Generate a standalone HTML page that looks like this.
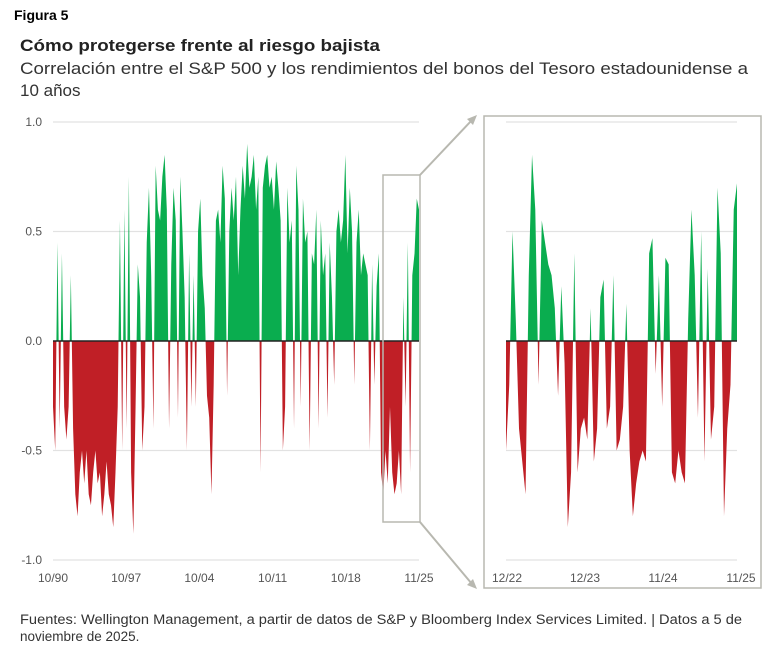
<!DOCTYPE html>
<html><head><meta charset="utf-8"><style>
body{margin:0;background:#fff;}
svg{display:block;font-family:"Liberation Sans",sans-serif;}
</style></head><body>
<svg id="chart" width="777" height="653" viewBox="0 0 777 653" xmlns="http://www.w3.org/2000/svg">
<text x="14" y="20" font-size="14" font-weight="bold" fill="#000">Figura 5</text>
<text x="20" y="51" font-size="17" font-weight="bold" fill="#222" textLength="360" lengthAdjust="spacingAndGlyphs">Cómo protegerse frente al riesgo bajista</text>
<text x="20" y="74" font-size="17" fill="#333" textLength="728" lengthAdjust="spacingAndGlyphs">Correlación entre el S&amp;P 500 y los rendimientos del bonos del Tesoro estadounidense a</text>
<text x="20" y="96" font-size="17" fill="#333">10 años</text>
<g id="main"></g>
<g id="inset"></g>
<rect x="383" y="175" width="37" height="347" fill="none" stroke="#b8b8b0" stroke-width="1.5"/>
<rect x="484" y="116" width="277" height="472" fill="none" stroke="#b8b8b0" stroke-width="1.5"/>
<line x1="420" y1="175" x2="472" y2="120" stroke="#b8b8b0" stroke-width="2"/>
<line x1="420" y1="522" x2="472" y2="584" stroke="#b8b8b0" stroke-width="2"/>
<polygon points="477,115 467,119 473,125" fill="#b8b8b0"/>
<polygon points="477,589 467,585 473,579" fill="#b8b8b0"/>
<text x="20" y="624" font-size="13.5" fill="#333" textLength="722" lengthAdjust="spacingAndGlyphs">Fuentes: Wellington Management, a partir de datos de S&amp;P y Bloomberg Index Services Limited.  |  Datos a 5 de</text>
<text x="20" y="641" font-size="13.5" fill="#333">noviembre de 2025.</text>
</svg>
<script>
const yTicks = [1.0, 0.5, 0.0, -0.5, -1.0];
const yTickLabels = ["1.0", "0.5", "0.0", "-0.5", "-1.0"];
const mainXTickLabels = ["10/90", "10/97", "10/04", "10/11", "10/18", "11/25"];
const insetXTickLabels = ["12/22", "12/23", "11/24", "11/25"];
const mainValues = [
-0.3,-0.5,0.45,-0.4,0.4,
-0.3,-0.45,-0.3,0.3,-0.4,
-0.7,-0.8,-0.6,-0.5,-0.65,
-0.5,-0.7,-0.75,-0.6,-0.5,
-0.65,-0.6,-0.8,-0.7,-0.55,
-0.7,-0.75,-0.85,-0.6,-0.3,
0.55,-0.5,0.6,-0.4,0.75,
-0.6,-0.88,-0.3,0.35,0.2,
-0.5,-0.3,0.45,0.7,0.3,
-0.4,0.8,0.6,0.55,0.75,
0.85,0.6,-0.4,0.35,0.7,
0.55,-0.35,0.75,0.5,0.2,
-0.5,0.4,-0.3,0.3,-0.3,
0.5,0.65,0.3,0.15,-0.25,
-0.35,-0.7,-0.2,0.55,0.6,
0.45,0.8,0.65,-0.25,0.5,
0.7,0.55,0.75,0.3,0.6,
0.8,0.65,0.9,0.7,0.75,
0.85,0.6,0.75,-0.6,0.7,
0.8,0.85,0.7,0.75,0.6,
0.82,0.7,0.55,-0.5,-0.3,
0.7,0.45,0.55,-0.4,0.8,
0.6,-0.3,0.65,0.45,0.5,
-0.5,0.4,0.35,0.6,-0.4,
0.55,0.3,0.4,-0.35,0.45,
0.2,-0.2,0.5,0.6,0.45,
0.55,0.85,0.4,0.7,0.5,
-0.2,0.45,0.6,0.3,0.4,
0.35,0.3,-0.5,0.35,-0.2,
0.25,0.4,-0.6,-0.7,-0.5,
-0.65,-0.3,-0.6,-0.7,-0.65,
-0.5,-0.7,0.2,-0.3,0.45,
-0.6,0.3,0.4,0.65,0.6];
const insetValues = [-0.5,-0.2,0.5,0.1,-0.4,-0.55,-0.7,0.3,0.85,0.6,-0.2,0.55,0.45,0.35,0.3,0.15,-0.25,0.25,-0.1,-0.85,-0.6,0.4,-0.6,-0.4,-0.35,-0.45,0.15,-0.55,-0.4,0.2,0.28,-0.4,-0.3,0.3,-0.5,-0.45,-0.3,0.17,-0.5,-0.8,-0.65,-0.55,-0.5,-0.55,0.4,0.47,-0.15,0.3,-0.3,0.38,0.35,-0.6,-0.65,-0.5,-0.6,-0.65,0.1,0.6,0.3,-0.35,0.5,-0.55,0.33,-0.45,-0.3,0.7,0.4,-0.8,-0.4,-0.2,0.6,0.72];

const NS = "http://www.w3.org/2000/svg";
function yScale(v){ return 341 - v * 219; }
function mk(tag, attrs, parent){ const e = document.createElementNS(NS, tag); for (const k in attrs) e.setAttribute(k, attrs[k]); parent.appendChild(e); return e; }

function drawPanel(g, x0, x1, values, xLabels, lx0, lx1, showY, id){
  yTicks.forEach((t, i) => {
    if (t !== 0) {
      const l = mk("line", {x1:x0, x2:x1, y1:yScale(t), y2:yScale(t), stroke:"#e2e2e2", "stroke-width":1.2}, g);
      
      
    }
    if (showY) {
      const tx = mk("text", {x:42, y:yScale(t)+4, "font-size":12, fill:"#555", "text-anchor":"end"}, g);
      tx.textContent = yTickLabels[i];
      
      
    }
  });
  const n = values.length;
  const xs = i => x0 + (x1 - x0) * i / (n - 1);
  let d = "M" + x0 + "," + yScale(0);
  values.forEach((v, i) => { d += " L" + xs(i).toFixed(2) + "," + yScale(v).toFixed(2); });
  d += " L" + x1 + "," + yScale(0) + " Z";
  const defs = mk("defs", {}, g);
  const cp = mk("clipPath", {id:id+"-pos"}, defs);
  mk("rect", {x:x0, y:0, width:x1-x0, height:yScale(0)}, cp);
  const cn = mk("clipPath", {id:id+"-neg"}, defs);
  mk("rect", {x:x0, y:yScale(0), width:x1-x0, height:400}, cn);
  const pos = mk("path", {d:d, fill:"#0aad4f", "clip-path":"url(#"+id+"-pos)"}, g);
  
  
  const neg = mk("path", {d:d, fill:"#c01f26", "clip-path":"url(#"+id+"-neg)"}, g);
  
  
  const z = mk("line", {x1:x0, x2:x1, y1:yScale(0), y2:yScale(0), stroke:"#222", "stroke-width":1.5}, g);
  
  
  xLabels.forEach((lab, i) => {
    const x = lx0 + (lx1 - lx0) * i / (xLabels.length - 1);
    const t = mk("text", {x:x, y:582, "font-size":12, fill:"#555", "text-anchor":"middle"}, g);
    t.textContent = lab;
    
    
  });
}
drawPanel(document.getElementById("main"), 53, 419, mainValues, mainXTickLabels, 53, 419, true, "m");
drawPanel(document.getElementById("inset"), 506, 737, insetValues, insetXTickLabels, 507, 741, false, "i");
</script>
</body></html>
